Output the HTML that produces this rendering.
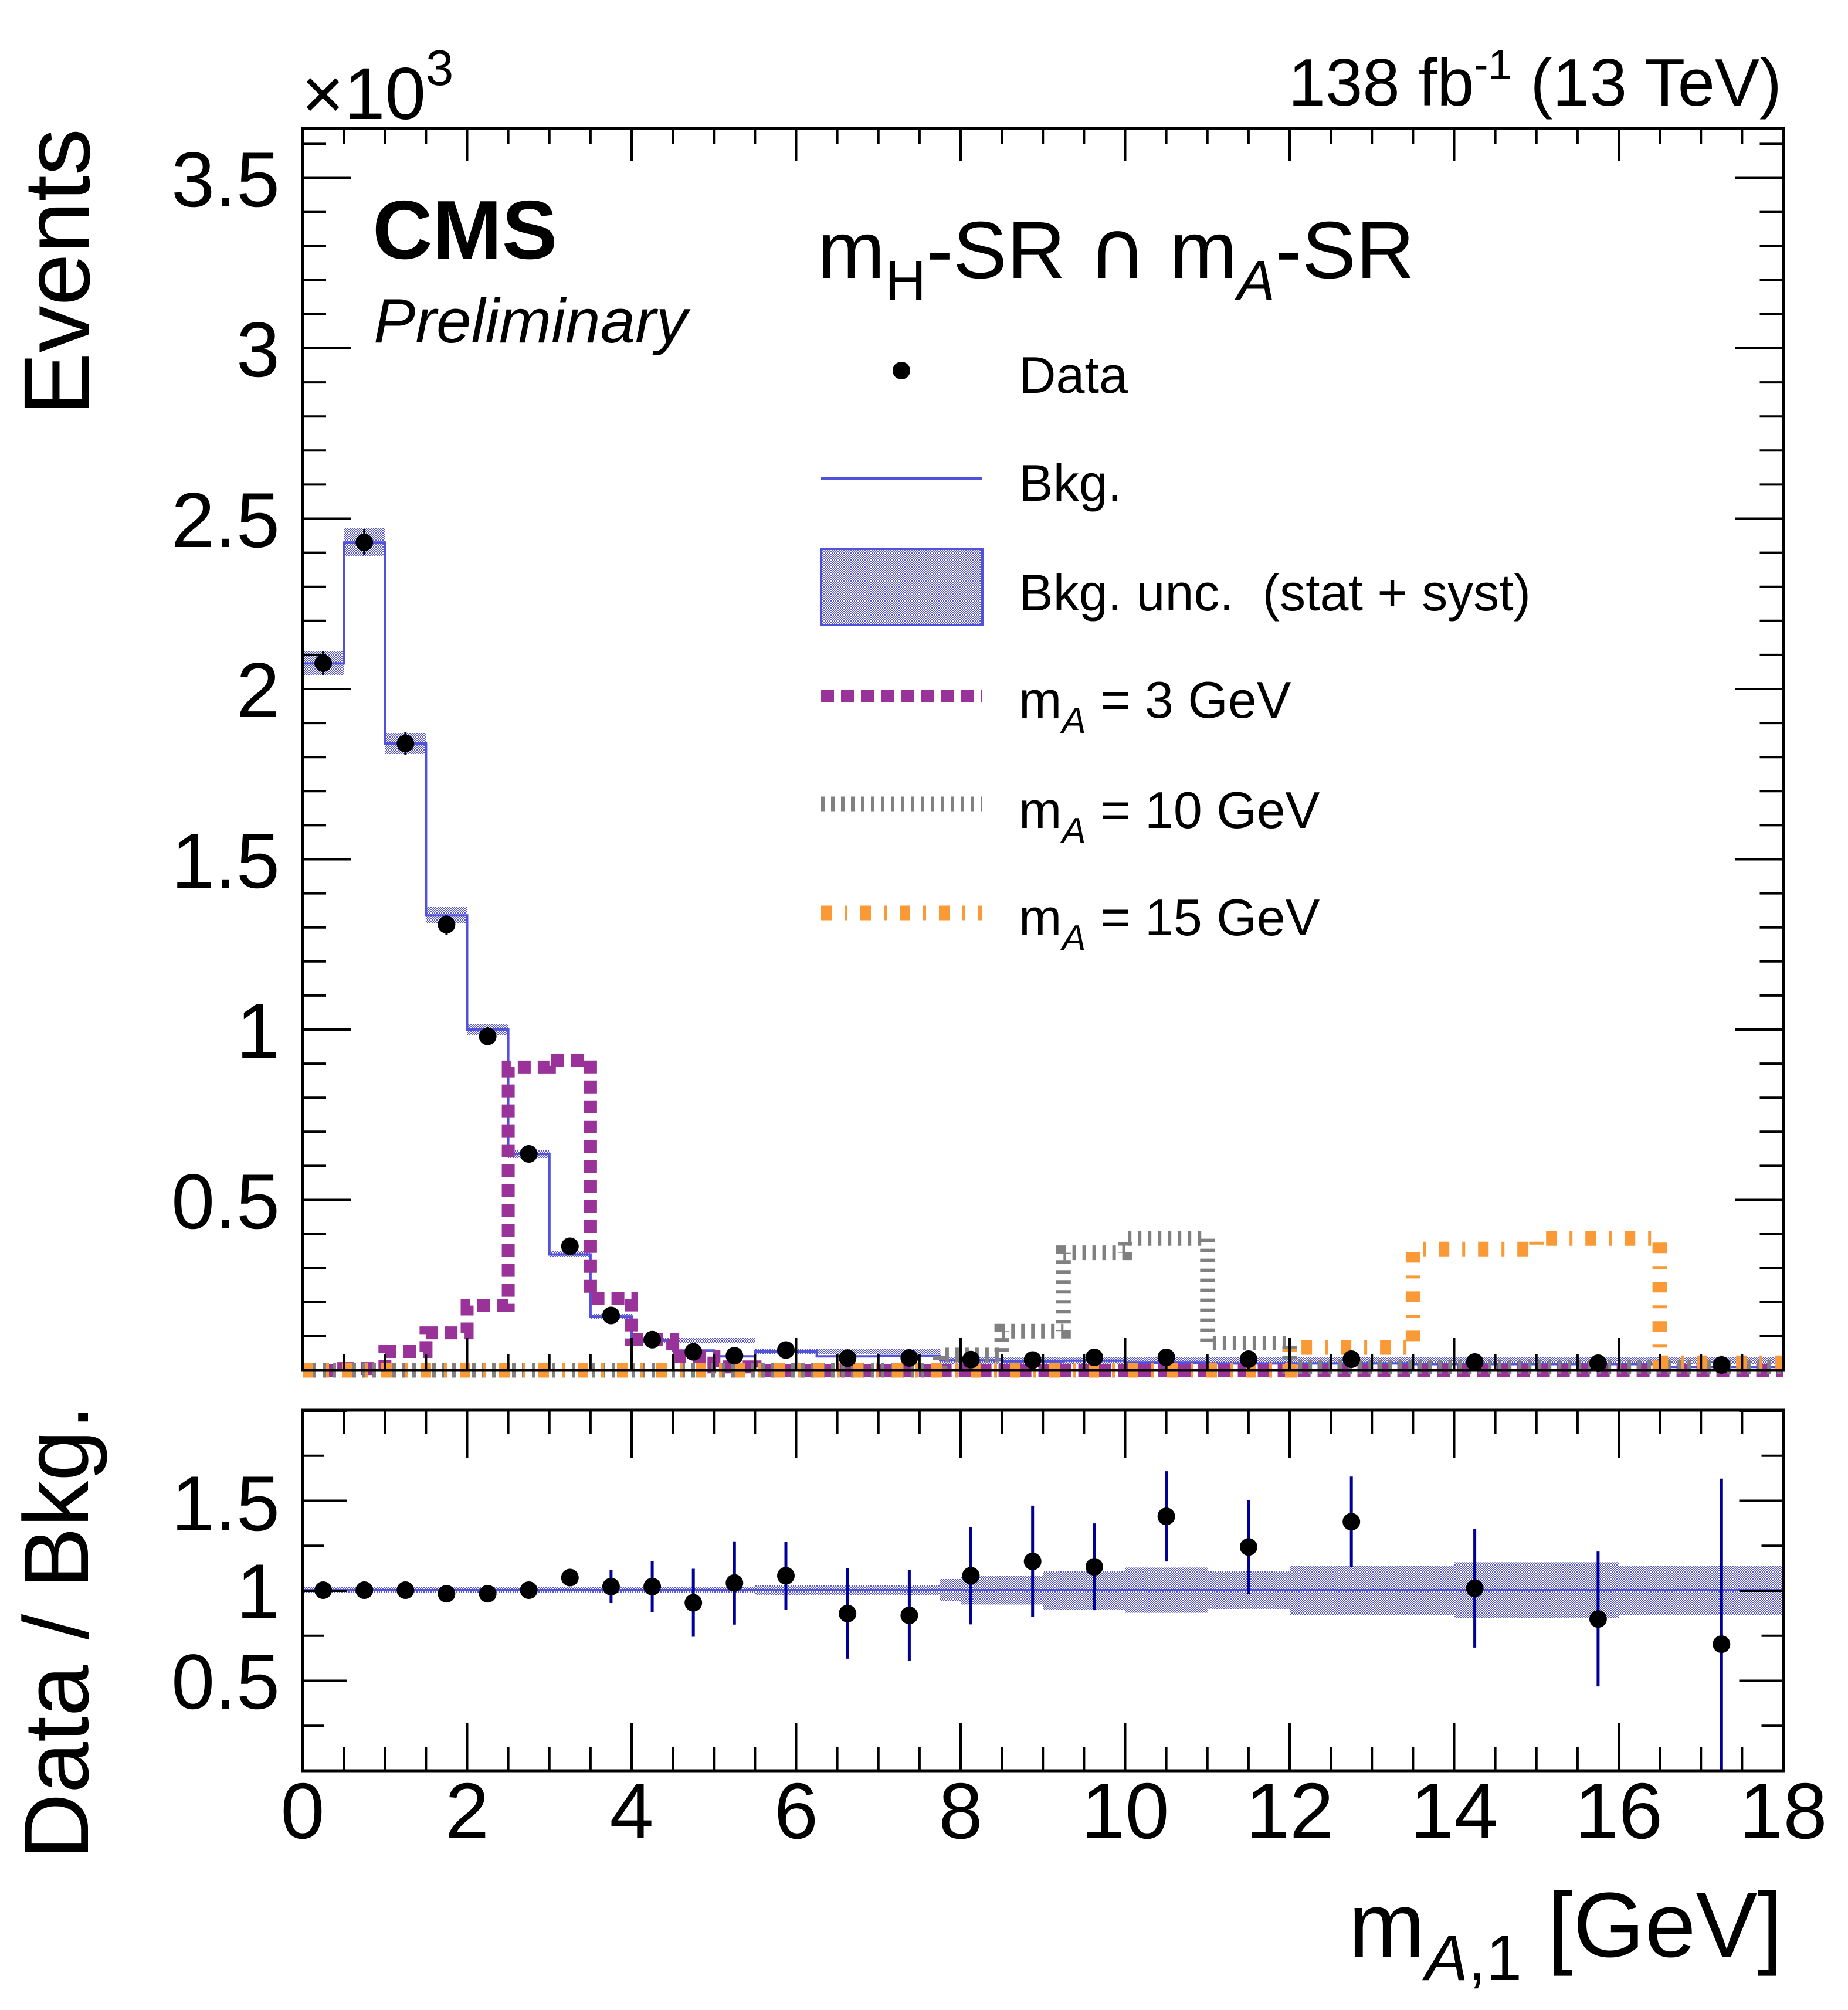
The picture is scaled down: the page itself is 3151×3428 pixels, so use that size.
<!DOCTYPE html>
<html><head><meta charset="utf-8"><style>
html,body{margin:0;padding:0;background:#fff;}
svg{display:block;}
text{font-family:"Liberation Sans",Arial,sans-serif;fill:#000;}
</style></head><body>
<svg width="3151" height="3428" viewBox="0 0 3151 3428" xmlns="http://www.w3.org/2000/svg">
<defs>
<pattern id="dots" width="4" height="4" patternUnits="userSpaceOnUse">
<rect x="0" y="0" width="2" height="2" fill="#5555dd"/>
<rect x="2" y="2" width="2" height="2" fill="#5555dd"/>
</pattern>
</defs>
<rect width="3151" height="3428" fill="#fff"/>

<g fill="url(#dots)">
<rect x="516" y="1111" width="70.1" height="40"/>
<rect x="586.1" y="901" width="70.2" height="48"/>
<rect x="656.3" y="1250" width="70.1" height="36"/>
<rect x="726.4" y="1547" width="70.1" height="28"/>
<rect x="796.5" y="1746" width="70.1" height="20"/>
<rect x="866.6" y="1961" width="70.2" height="14"/>
<rect x="936.8" y="2134" width="70.1" height="10"/>
<rect x="1006.9" y="2241" width="70.1" height="8"/>
<rect x="1077" y="2282" width="210" height="8"/>
<rect x="1287.4" y="2300" width="316" height="10"/>
<rect x="1603" y="2315" width="1437" height="12"/>
</g>
<path d="M516,1131.4 H586.1 V925.2 H656.3 V1268 H726.4 V1561.4 H796.5 V1756 H866.6 V1968.1 H936.8 V2139.5 H1006.9 V2245.2 H1077 V2285.9 H1147.1 V2303.3 H1217.3 V2313.2 H1287.4 V2305 H1392.6 V2313.2 H1497.8 V2312.6 H1603 V2320.2 H1708.1 V2321.9 H1813.3 V2320.7 H1918.5 V2324.2 H2058.8 V2325.4 H2199 V2325.4 H2409.4 V2326.5 H2619.8 V2326.5 H2830.1 V2331.2 H3040.5" fill="none" stroke="#5151db" stroke-width="4"/>

<path d="M516,2337 H586.1 V2334.1 H656.3 V2305 H726.4 V2273.1 H796.5 V2226.6 H866.6 V1819.9 H936.8 V1808.3 H1006.9 V2215 H1077 V2284.7 H1147.1 V2313.8 H1217.3 V2331.2 H1287.4 V2337 H3040.5" fill="none" stroke="#993399" stroke-width="22" stroke-dasharray="22 12"/>
<path d="M516,2337 H1603 V2310.9 H1708.1 V2270.2 H1813.3 V2136.6 H1918.5 V2112.2 H2058.8 V2290.5 H2199 V2331.2 H3040.5" fill="none" stroke="#808080" stroke-width="25" stroke-dasharray="6 11"/>
<path d="M516,2337 H2199 V2298.1 H2409.4 V2130.2 H2619.8 V2112.2 H2830.1 V2324.2 H3040.5" fill="none" stroke="#fa9a36" stroke-width="25" stroke-dasharray="18 22 5 22"/>

<g stroke="#000" stroke-width="4">
<line x1="551.1" y1="1111" x2="551.1" y2="1151"/>
<line x1="621.2" y1="903" x2="621.2" y2="947"/>
<line x1="691.3" y1="1248" x2="691.3" y2="1288"/>
<line x1="761.4" y1="1560" x2="761.4" y2="1594"/>
<line x1="831.6" y1="1752" x2="831.6" y2="1783"/>
<line x1="901.7" y1="1955" x2="901.7" y2="1981"/>
</g>
<g fill="#000">
<circle cx="551.1" cy="1131" r="15"/>
<circle cx="621.2" cy="925" r="15"/>
<circle cx="691.3" cy="1268" r="15"/>
<circle cx="761.4" cy="1577" r="15"/>
<circle cx="831.6" cy="1767.6" r="15"/>
<circle cx="901.7" cy="1968" r="15"/>
<circle cx="971.8" cy="2125.5" r="15"/>
<circle cx="1041.9" cy="2243.5" r="15"/>
<circle cx="1112.1" cy="2284.8" r="15"/>
<circle cx="1182.2" cy="2305.6" r="15"/>
<circle cx="1252.3" cy="2312.2" r="15"/>
<circle cx="1340" cy="2302.5" r="15"/>
<circle cx="1445.2" cy="2316.3" r="15"/>
<circle cx="1550.4" cy="2316" r="15"/>
<circle cx="1655.5" cy="2318.8" r="15"/>
<circle cx="1760.7" cy="2319.5" r="15"/>
<circle cx="1865.9" cy="2315" r="15"/>
<circle cx="1988.6" cy="2315" r="15"/>
<circle cx="2128.9" cy="2318" r="15"/>
<circle cx="2304.2" cy="2318" r="15"/>
<circle cx="2514.6" cy="2323" r="15"/>
<circle cx="2724.9" cy="2325" r="15"/>
<circle cx="2935.3" cy="2328" r="15"/>
</g>

<rect x="516" y="219" width="2524.5" height="2118" fill="none" stroke="#000" stroke-width="5"/>
<g stroke="#000" fill="none">
<line x1="536" y1="2339" x2="536" y2="219" stroke-width="40" stroke-dasharray="4 54.1"/>
<line x1="557" y1="2339" x2="557" y2="219" stroke-width="82" stroke-dasharray="4 286.5"/>
<line x1="3020.5" y1="2339" x2="3020.5" y2="219" stroke-width="40" stroke-dasharray="4 54.1"/>
<line x1="2999.5" y1="2339" x2="2999.5" y2="219" stroke-width="82" stroke-dasharray="4 286.5"/>
<line x1="514" y1="2323.5" x2="3043" y2="2323.5" stroke-width="27" stroke-dasharray="4 66.125"/>
<line x1="514" y1="2309.5" x2="3043" y2="2309.5" stroke-width="55" stroke-dasharray="4 276.5"/>
<line x1="514" y1="232.5" x2="3043" y2="232.5" stroke-width="27" stroke-dasharray="4 66.125"/>
<line x1="514" y1="246.5" x2="3043" y2="246.5" stroke-width="55" stroke-dasharray="4 276.5"/>
</g>

<g font-size="133" text-anchor="end">
<text x="477" y="2095">0.5</text>
<text x="477" y="1804">1</text>
<text x="477" y="1514">1.5</text>
<text x="477" y="1223">2</text>
<text x="477" y="933">2.5</text>
<text x="477" y="642">3</text>
<text x="477" y="352">3.5</text>
</g>
<text x="514" y="203" font-size="125">×10<tspan font-size="85" dy="-58">3</tspan></text>
<text x="3038" y="180" font-size="114" text-anchor="end">138 fb<tspan font-size="72" dy="-45">-1</tspan><tspan dy="45"> (13 TeV)</tspan></text>
<text x="152" y="219" font-size="160" text-anchor="end" transform="rotate(-90 152 219)">Events</text>

<text x="635" y="441" font-size="142" font-weight="bold">CMS</text>
<text x="637" y="584" font-size="107" font-style="italic">Preliminary</text>

<text x="1394" y="474" font-size="138">m<tspan font-size="97" dy="38">H</tspan><tspan dy="-38">-SR </tspan><tspan font-family="DejaVu Sans, sans-serif">∩</tspan><tspan> m</tspan><tspan font-size="97" dy="38" font-style="italic">A</tspan><tspan dy="-38">-SR</tspan></text>
<circle cx="1537" cy="632" r="15" fill="#000"/>
<text x="1737" y="670" font-size="88">Data</text>
<line x1="1400" y1="816" x2="1675" y2="816" stroke="#5151db" stroke-width="4"/>
<text x="1737" y="854" font-size="88">Bkg.</text>
<rect x="1400" y="936" width="275" height="130" fill="url(#dots)" stroke="#5151db" stroke-width="4"/>
<text x="1737" y="1041" font-size="88" xml:space="preserve">Bkg. unc.  (stat + syst)</text>
<line x1="1400" y1="1187" x2="1675" y2="1187" stroke="#993399" stroke-width="22" stroke-dasharray="22 12"/>
<text x="1737" y="1224" font-size="88">m<tspan font-size="62" dy="26" font-style="italic">A</tspan><tspan dy="-26"> = 3 GeV</tspan></text>
<line x1="1400" y1="1371" x2="1675" y2="1371" stroke="#808080" stroke-width="25" stroke-dasharray="6 11"/>
<text x="1737" y="1412" font-size="88">m<tspan font-size="62" dy="26" font-style="italic">A</tspan><tspan dy="-26"> = 10 GeV</tspan></text>
<line x1="1400" y1="1557" x2="1675" y2="1557" stroke="#fa9a36" stroke-width="25" stroke-dasharray="18 22 5 22"/>
<text x="1737" y="1595" font-size="88">m<tspan font-size="62" dy="26" font-style="italic">A</tspan><tspan dy="-26"> = 15 GeV</tspan></text>

<g fill="url(#dots)">
<rect x="516" y="2707" width="771.4" height="10"/>
<rect x="1287.4" y="2703" width="315.6" height="18"/>
<rect x="1603" y="2693" width="35" height="38"/>
<rect x="1638" y="2687.5" width="140.3" height="49"/>
<rect x="1778.3" y="2679" width="140.2" height="66"/>
<rect x="1918.5" y="2673.4" width="140.3" height="77.2"/>
<rect x="2058.8" y="2680" width="140.2" height="64"/>
<rect x="2199" y="2670" width="280.5" height="84"/>
<rect x="2479.5" y="2664.4" width="280.5" height="95.2"/>
<rect x="2760" y="2670" width="280.5" height="84"/>
</g>
<line x1="516" y1="2712" x2="3040.5" y2="2712" stroke="#5151db" stroke-width="4"/>
<g stroke="#000099" stroke-width="5">
<line x1="971.8" y1="2678.5" x2="971.8" y2="2702.5"/>
<line x1="1041.9" y1="2678" x2="1041.9" y2="2734"/>
<line x1="1112.1" y1="2663" x2="1112.1" y2="2749"/>
<line x1="1182.2" y1="2675.5" x2="1182.2" y2="2791.5"/>
<line x1="1252.3" y1="2628.7" x2="1252.3" y2="2770.7"/>
<line x1="1340" y1="2629.4" x2="1340" y2="2745.4"/>
<line x1="1445.2" y1="2674.9" x2="1445.2" y2="2828.9"/>
<line x1="1550.4" y1="2678" x2="1550.4" y2="2832"/>
<line x1="1655.5" y1="2604.4" x2="1655.5" y2="2770.4"/>
<line x1="1760.7" y1="2567.9" x2="1760.7" y2="2757.9"/>
<line x1="1865.9" y1="2598.1" x2="1865.9" y2="2746.1"/>
<line x1="1988.6" y1="2509.1" x2="1988.6" y2="2663.1"/>
<line x1="2128.9" y1="2558.3" x2="2128.9" y2="2718.3"/>
<line x1="2304.2" y1="2518.3" x2="2304.2" y2="2672.3"/>
<line x1="2514.6" y1="2607.9" x2="2514.6" y2="2809.9"/>
<line x1="2724.9" y1="2646.1" x2="2724.9" y2="2876.1"/>
<line x1="2935.3" y1="2521.7" x2="2935.3" y2="3020"/>
</g>
<g fill="#000">
<circle cx="551.1" cy="2712" r="15"/>
<circle cx="621.2" cy="2712" r="15"/>
<circle cx="691.3" cy="2712" r="15"/>
<circle cx="761.4" cy="2718.1" r="15"/>
<circle cx="831.6" cy="2718.1" r="15"/>
<circle cx="901.7" cy="2712" r="15"/>
<circle cx="971.8" cy="2690.5" r="15"/>
<circle cx="1041.9" cy="2705.9" r="15"/>
<circle cx="1112.1" cy="2705.9" r="15"/>
<circle cx="1182.2" cy="2733.5" r="15"/>
<circle cx="1252.3" cy="2699.7" r="15"/>
<circle cx="1340" cy="2687.4" r="15"/>
<circle cx="1445.2" cy="2751.9" r="15"/>
<circle cx="1550.4" cy="2755" r="15"/>
<circle cx="1655.5" cy="2687.4" r="15"/>
<circle cx="1760.7" cy="2662.9" r="15"/>
<circle cx="1865.9" cy="2672.1" r="15"/>
<circle cx="1988.6" cy="2586.1" r="15"/>
<circle cx="2128.9" cy="2638.3" r="15"/>
<circle cx="2304.2" cy="2595.3" r="15"/>
<circle cx="2514.6" cy="2708.9" r="15"/>
<circle cx="2724.9" cy="2761.1" r="15"/>
<circle cx="2935.3" cy="2804.1" r="15"/>
</g>

<rect x="516" y="2405" width="2524.5" height="615" fill="none" stroke="#000" stroke-width="5"/>
<g stroke="#000" fill="none">
<line x1="534.5" y1="3022" x2="534.5" y2="2405" stroke-width="37" stroke-dasharray="4 72.75"/>
<line x1="553.5" y1="3022" x2="553.5" y2="2405" stroke-width="75" stroke-dasharray="4 149.5"/>
<line x1="3022" y1="3022" x2="3022" y2="2405" stroke-width="37" stroke-dasharray="4 72.75"/>
<line x1="3003" y1="3022" x2="3003" y2="2405" stroke-width="75" stroke-dasharray="4 149.5"/>
<line x1="514" y1="3000" x2="3043" y2="3000" stroke-width="40" stroke-dasharray="4 66.125"/>
<line x1="514" y1="2979" x2="3043" y2="2979" stroke-width="82" stroke-dasharray="4 276.5"/>
<line x1="514" y1="2425" x2="3043" y2="2425" stroke-width="40" stroke-dasharray="4 66.125"/>
<line x1="514" y1="2446" x2="3043" y2="2446" stroke-width="82" stroke-dasharray="4 276.5"/>
</g>
<g font-size="133" text-anchor="end">
<text x="477" y="2610">1.5</text>
<text x="477" y="2760">1</text>
<text x="477" y="2914">0.5</text>
</g>
<g font-size="135" text-anchor="middle">
<text x="516" y="3135">0</text>
<text x="796.5" y="3135">2</text>
<text x="1077" y="3135">4</text>
<text x="1357.5" y="3135">6</text>
<text x="1638" y="3135">8</text>
<text x="1918.5" y="3135">10</text>
<text x="2199" y="3135">12</text>
<text x="2479.5" y="3135">14</text>
<text x="2760" y="3135">16</text>
<text x="3040.5" y="3135">18</text>
</g>
<text x="150" y="2395" font-size="157" text-anchor="end" transform="rotate(-90 150 2395)">Data / Bkg.</text>
<text x="3040" y="3337" font-size="157" text-anchor="end">m<tspan font-size="110" dy="40" font-style="italic">A</tspan><tspan font-size="110">,1</tspan><tspan dy="-40"> [GeV]</tspan></text>
</svg>
</body></html>
